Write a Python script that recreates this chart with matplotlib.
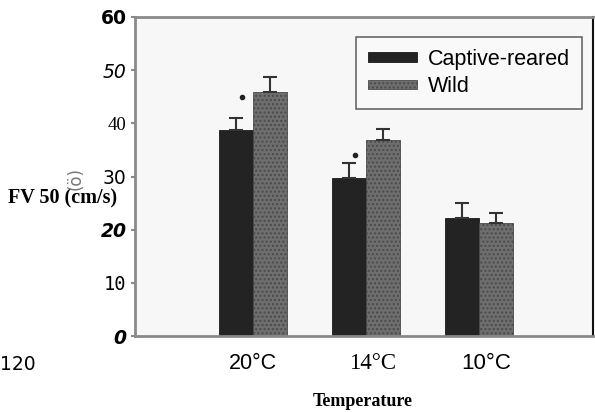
import matplotlib
matplotlib.use("Agg")
import matplotlib.pyplot as plt
import matplotlib.transforms as mtransforms
import numpy as np

categories = ["20°C", "14°C", "10°C"]
captive = [38.7, 29.7, 22.2]
captive_err = [2.3, 2.8, 2.8]
wild = [45.9, 36.8, 21.2]
wild_err = [2.8, 2.1, 1.9]
star_y = [45.0, 34.0]
yticks = [0, 10, 20, 30, 40, 50, 60]

plt.rcParams["hatch.color"] = "#4a4a4a"
W, H = 595, 412
fig = plt.figure(figsize=(W / 100, H / 100), dpi=100)
ax_l, ax_r, ax_b, ax_t = 135, 593, 336, 17
ax = fig.add_axes([ax_l / W, 1 - ax_b / H, (ax_r - ax_l) / W, (ax_b - ax_t) / H])
ax.set_facecolor("#f7f7f7")

x = np.arange(len(categories))
bw = 0.30
ax.bar(x - bw / 2, captive, bw, color="#232323", edgecolor="#1a1a1a", linewidth=0.6, label="Captive-reared")
ax.bar(x + bw / 2, wild, bw, color="#6e6e6e", edgecolor="#4a4a4a", linewidth=0.6,
       hatch="....", label="Wild")
ax.errorbar(x - bw / 2, captive, yerr=[np.zeros(3), captive_err], fmt="none",
            ecolor="#333333", elinewidth=1.5, capsize=5, capthick=1.5)
ax.errorbar(x + bw / 2, wild, yerr=[np.zeros(3), wild_err], fmt="none",
            ecolor="#333333", elinewidth=1.5, capsize=5, capthick=1.5)
for i, sy in enumerate(star_y):
    ax.plot(x[i] - 0.1, sy, marker="o", ms=3, color="#222222")

ax.set_xlim((ax_l - 253) / 113, (ax_r - 253) / 113)
ax.set_ylim(0, 60)
ax.set_yticks(yticks)
ax.set_yticklabels([str(v) for v in yticks])
ax.set_xticks(x)
ax.set_xticklabels(categories)
ax.tick_params(axis="y", length=3, width=1.5, color="#8a8a8a", pad=3)
ax.tick_params(axis="x", length=0, pad=12)

ylab_styles = {
    0: dict(family="DejaVu Sans", style="italic", weight="bold"),
    10: dict(family="DejaVu Sans Mono", weight="normal"),
    20: dict(family="DejaVu Sans", style="italic", weight="bold"),
    30: dict(family="DejaVu Sans", weight="normal"),
    40: dict(family="Liberation Serif", weight="normal"),
    50: dict(family="DejaVu Sans", style="italic", weight="normal"),
    60: dict(family="DejaVu Sans", weight="bold"),
}
for lab, v in zip(ax.get_yticklabels(), yticks):
    st = ylab_styles[v]
    lab.set_fontfamily(st["family"])
    lab.set_fontweight(st.get("weight", "normal"))
    lab.set_fontstyle(st.get("style", "normal"))
    lab.set_fontsize(13.5)
xfams = ["Liberation Sans", "Liberation Serif", "Liberation Sans"]
xsizes = [15.5, 16.5, 16]
xshift_px = [0, 7, 7]
for lab, f, s, dx in zip(ax.get_xticklabels(), xfams, xsizes, xshift_px):
    lab.set_fontfamily(f)
    lab.set_fontsize(s)
    lab.set_transform(lab.get_transform() + mtransforms.ScaledTranslation(dx / 100, 0, fig.dpi_scale_trans))

for s in ["left", "bottom", "top"]:
    ax.spines[s].set_color("#8a8a8a")
    ax.spines[s].set_linewidth(2)
ax.spines["right"].set_color("#111111")
ax.spines["right"].set_linewidth(1.5)

leg = ax.legend(loc="upper right", bbox_to_anchor=((582 - ax_l) / (ax_r - ax_l), 1 - (37 - ax_t) / (ax_b - ax_t)),
                prop={"family": "Liberation Sans", "size": 15.5}, frameon=True, fancybox=False,
                handlelength=2.3, handleheight=0.3, borderpad=0.55, labelspacing=0.3,
                handletextpad=0.5, borderaxespad=0)
leg.get_frame().set_edgecolor("#444444")
leg.get_frame().set_linewidth(1.2)
leg.get_frame().set_facecolor("#fafafa")

fig.text(8 / W, 1 - 198 / H, "FV 50 (cm/s)", family="Liberation Serif", weight="bold",
         fontsize=14.5, va="center", ha="left")
fig.text(76 / W, 1 - 178 / H, "(ö)", family="DejaVu Sans", fontsize=12, color="#777777",
         rotation=90, va="center", ha="center")
fig.text(0 / W, 1 - 365 / H, "120", family="DejaVu Sans", fontsize=13.5, va="center", ha="left")
fig.text(363 / W, 1 - 401 / H, "Temperature", family="Liberation Serif", weight="bold",
         fontsize=13, va="center", ha="center")

fig.savefig("out.png", dpi=100)
